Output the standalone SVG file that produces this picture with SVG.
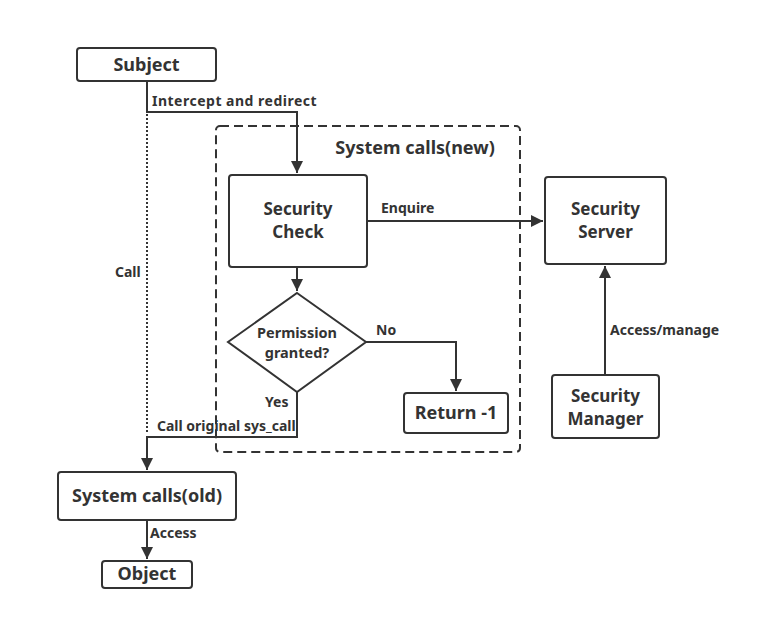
<svg xmlns="http://www.w3.org/2000/svg" width="775" height="619" viewBox="0 0 775 619">
<style>
.n{fill:#fff;stroke:#333;stroke-width:2}
.t{font-family:"Noto Sans","Open Sans",sans-serif;font-weight:bold;font-size:18px;fill:#333;text-anchor:middle}
.t2{font-family:"Noto Sans","Open Sans",sans-serif;font-weight:bold;font-size:17px;fill:#333;text-anchor:middle}
.l{font-family:"Noto Sans","Open Sans",sans-serif;font-weight:bold;font-size:14px;fill:#333}
.c{fill:none;stroke:#333;stroke-width:2}
</style>
<defs>
<marker id="a" viewBox="0 0 10 10" refX="10" refY="5" markerWidth="12" markerHeight="12" markerUnits="userSpaceOnUse" orient="auto"><path d="M0,0 L10,5 L0,10 z" fill="#333"/></marker>
</defs>
<rect width="775" height="619" fill="#fff"/>
<g id="container">
<rect x="216" y="126" width="304" height="326" rx="4" fill="none" stroke="#333" stroke-width="2" stroke-dasharray="9,5"/>
<text class="t" x="415" y="154">System calls(new)</text>
</g>
<g id="connectors">
<polyline class="c" points="147,81 147,112 297,112 297,173" marker-end="url(#a)"/>
<line x1="147" y1="114" x2="147" y2="433" stroke="#333" stroke-width="2" stroke-dasharray="2,2"/>
<line class="c" x1="297" y1="267" x2="297" y2="291" marker-end="url(#a)"/>
<line class="c" x1="367" y1="221" x2="543" y2="221" marker-end="url(#a)"/>
<polyline class="c" points="366,342 456,342 456,391" marker-end="url(#a)"/>
<polyline class="c" points="297,392 297,437 147,437 147,470" marker-end="url(#a)"/>
<line class="c" x1="147" y1="520" x2="147" y2="559" marker-end="url(#a)"/>
<line class="c" x1="605" y1="375" x2="605" y2="266" marker-end="url(#a)"/>
<text class="l" x="152" y="106" style="letter-spacing:0.5px">Intercept and redirect</text>
<text class="l" x="115" y="277">Call</text>
<text class="l" x="381" y="213">Enquire</text>
<text class="l" x="376" y="335">No</text>
<text class="l" x="265" y="407">Yes</text>
<text class="l" x="157" y="431">Call original sys_call</text>
<text class="l" x="150" y="538">Access</text>
<text class="l" x="610" y="335">Access/manage</text>
</g>
<g id="subject"><rect class="n" x="77" y="48" width="139" height="33" rx="3"/><text class="t" x="146.5" y="71">Subject</text></g>
<g id="security-check"><rect class="n" x="229" y="175" width="138" height="92" rx="3"/><text class="t2" x="298" y="215">Security</text><text class="t2" x="298" y="238">Check</text></g>
<g id="permission"><polygon class="n" points="297,293 366,342 297,392 228,342"/><text class="l" x="297" y="338" text-anchor="middle" style="font-size:14.5px">Permission</text><text class="l" x="297" y="358" text-anchor="middle" style="font-size:14.5px">granted?</text></g>
<g id="return"><rect class="n" x="404" y="393" width="104" height="40" rx="3"/><text class="t" x="456" y="419">Return -1</text></g>
<g id="security-server"><rect class="n" x="545" y="177" width="121" height="87" rx="3"/><text class="t2" x="605.5" y="215">Security</text><text class="t2" x="605.5" y="238">Server</text></g>
<g id="security-manager"><rect class="n" x="552" y="375" width="107" height="63" rx="3"/><text class="t2" x="605.5" y="402">Security</text><text class="t2" x="605.5" y="425">Manager</text></g>
<g id="syscalls-old"><rect class="n" x="58" y="472" width="178" height="48" rx="3"/><text class="t" x="147" y="502">System calls(old)</text></g>
<g id="object"><rect class="n" x="102" y="561" width="90" height="27" rx="3"/><text class="t" x="147" y="580">Object</text></g>
</svg>
